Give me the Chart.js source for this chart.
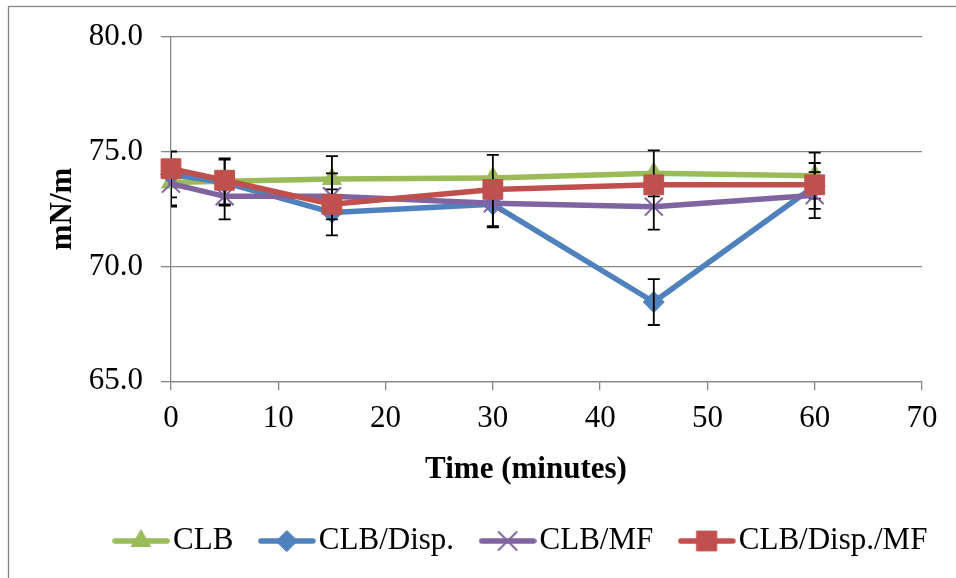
<!DOCTYPE html>
<html>
<head>
<meta charset="utf-8">
<title>Surface tension vs time</title>
<script src="https://cdn.jsdelivr.net/npm/chart.js@4.4.0/dist/chart.umd.min.js"></script>
<style>
  html, body { margin: 0; padding: 0; background: #fff; overflow: hidden; }
  #wrap { position: relative; width: 1052px; height: 578px; }
</style>
</head>
<body>
<div id="wrap"><canvas id="chart-tension" width="1052" height="578"></canvas></div>
<script>
// Surface tension (mN/m) over time for four formulations, with error bars

// Data
const times = [0, 5, 15, 30, 45, 60];
const clb = [73.65, 73.7, 73.8, 73.85, 74.05, 73.95];
const clbDisp = [74.0, 73.65, 72.35, 72.7, 68.45, 73.5];
const clbMf = [73.6, 73.05, 73.05, 72.75, 72.6, 73.1];
const clbDispMf = [74.25, 73.75, 72.7, 73.35, 73.55, 73.55];

// Error bar half-widths (the last series has none)
const clbErr = [1, 1, 1, 1, 1, 1];
const clbDispErr = [1, 1, 1, 1, 1, 1];
const clbMfErr = [1, 1, 1, 1, 1, 1];

const seriesNames = ['CLB', 'CLB/Disp.', 'CLB/MF', 'CLB/Disp./MF'];
const xTicks = [0, 10, 20, 30, 40, 50, 60, 70];
const yTicks = [65, 70, 75, 80];

// Excel 2007 palette
const colors = {
    green: '#9BBB59',
    blue: '#4F81BD',
    purple: '#8064A2',
    red: '#C0504D',
    grid: '#868686',
    text: '#000000'
};

const FONT = "'Liberation Serif', 'Times New Roman', serif";
const FONT_SIZE = 31;

Chart.defaults.font.family = FONT;
Chart.defaults.font.size = FONT_SIZE;
Chart.defaults.color = colors.text;

const markers = [
    { style: 'triangle', radius: 11, border: 1 },
    { style: 'rectRot', radius: 10.5, border: 1 },
    { style: 'crossRot', radius: 12.7, border: 2 },
    { style: 'rect', radius: 14, border: 1 }
];
const seriesColors = [colors.green, colors.blue, colors.purple, colors.red];
const seriesValues = [clb, clbDisp, clbMf, clbDispMf];
const seriesErrors = [clbErr, clbDispErr, clbMfErr, null];

function toPoints(values) {
    return times.map((t, i) => ({ x: t, y: values[i] }));
}

const datasets = seriesNames.map((name, i) => ({
    label: name,
    data: toPoints(seriesValues[i]),
    errors: seriesErrors[i],
    borderColor: seriesColors[i],
    backgroundColor: seriesColors[i],
    borderWidth: 5.5,
    borderJoinStyle: 'round',
    borderCapStyle: 'round',
    tension: 0,
    pointStyle: markers[i].style,
    pointRadius: markers[i].radius,
    pointBorderWidth: markers[i].border,
    pointBackgroundColor: seriesColors[i],
    pointBorderColor: seriesColors[i],
    clip: false,
    order: seriesNames.length - i // last series drawn on top, like Excel
}));

// Legend swatch: short line with the marker in the middle
function legendSwatch(i) {
    const c = document.createElement('canvas');
    c.width = 58;
    c.height = 30;
    const g = c.getContext('2d');
    g.strokeStyle = seriesColors[i];
    g.fillStyle = seriesColors[i];
    g.lineWidth = 5.5;
    g.lineCap = 'round';
    g.beginPath();
    g.moveTo(3, 15);
    g.lineTo(55, 15);
    g.stroke();
    g.lineWidth = markers[i].border;
    Chart.helpers.drawPoint(g, {
        pointStyle: markers[i].style,
        radius: markers[i].radius,
        borderWidth: markers[i].border,
        rotation: 0
    }, 29, 15);
    return c;
}

// Chart frame (only top/left edges fall inside the window)
const framePlugin = {
    id: 'frame',
    beforeDraw(chart) {
        const ctx = chart.ctx;
        ctx.save();
        ctx.fillStyle = '#fff';
        ctx.fillRect(0, 0, chart.width, chart.height);
        ctx.strokeStyle = colors.grid;
        ctx.lineWidth = 1.3;
        ctx.strokeRect(8.5, 6.5, chart.width - 17, chart.height + 20);
        ctx.restore();
    }
};

// Vertical error bars, clipped to the plot area
const errorBarPlugin = {
    id: 'errorBars',
    afterDatasetDraw(chart, args) {
        const ds = chart.data.datasets[args.index];
        if (!ds.errors) return;
        const ctx = chart.ctx;
        const area = chart.chartArea;
        const yScale = chart.scales.y;
        ctx.save();
        ctx.beginPath();
        ctx.rect(area.left, area.top, area.right - area.left, area.bottom - area.top);
        ctx.clip();
        ctx.strokeStyle = '#000';
        ctx.lineWidth = 1.8;
        args.meta.data.forEach((pt, i) => {
            const v = ds.data[i].y;
            const e = ds.errors[i];
            const top = yScale.getPixelForValue(v + e);
            const bot = yScale.getPixelForValue(v - e);
            const x = pt.x;
            ctx.beginPath();
            ctx.moveTo(x, top);
            ctx.lineTo(x, bot);
            ctx.moveTo(x - 6, top);
            ctx.lineTo(x + 6, top);
            ctx.moveTo(x - 6, bot);
            ctx.lineTo(x + 6, bot);
            ctx.stroke();
        });
        ctx.restore();
    }
};

const ctx = document.getElementById('chart-tension');
new Chart(ctx, {
    type: 'line',
    data: { datasets },
    options: {
        responsive: false,
        animation: false,
        layout: { padding: { left: 0, right: 0, top: 36, bottom: 11.5 } },
        plugins: {
            // x-axis caption, placed between the axis and the legend
            title: {
                display: true,
                position: 'bottom',
                weight: 500,
                text: 'Time (minutes)',
                color: colors.text,
                font: { size: FONT_SIZE, weight: 'bold' },
                padding: { top: 14, bottom: 0 }
            },
            legend: {
                position: 'bottom',
                labels: {
                    usePointStyle: true,
                    pointStyleWidth: 33,
                    padding: 37,
                    color: colors.text,
                    font: { size: FONT_SIZE },
                    generateLabels: (chart) => seriesNames.map((name, i) => ({
                        text: name,
                        pointStyle: legendSwatch(i),
                        fillStyle: seriesColors[i],
                        strokeStyle: seriesColors[i],
                        lineWidth: 0,
                        hidden: false,
                        datasetIndex: i
                    }))
                }
            },
            tooltip: { enabled: false }
        },
        scales: {
            x: {
                type: 'linear',
                min: 0,
                max: 70,
                afterBuildTicks: (axis) => { axis.ticks = xTicks.map(v => ({ value: v })); },
                afterFit: (axis) => { axis.height = 56; },
                ticks: { padding: 10, color: colors.text, maxRotation: 0 },
                grid: { drawOnChartArea: false, drawTicks: true, tickLength: 9, color: colors.grid, lineWidth: 1.3 },
                border: { display: true, color: colors.grid, width: 1.3 }
            },
            y: {
                type: 'linear',
                position: 'left',
                min: 65,
                max: 80,
                afterBuildTicks: (axis) => { axis.ticks = yTicks.map(v => ({ value: v })); },
                afterFit: (axis) => { axis.width = 171; },
                ticks: { padding: 18, color: colors.text, callback: (v) => Number(v).toFixed(1) },
                grid: { color: colors.grid, lineWidth: 1.3, drawTicks: true, tickLength: 10 },
                border: { display: true, color: colors.grid, width: 1.3 },
                title: {
                    display: true,
                    text: 'mN/m',
                    color: colors.text,
                    font: { size: FONT_SIZE, weight: 'bold' },
                    padding: { top: 44, bottom: 0 }
                }
            },
            // blank right-hand axis keeps the plot clear of the legend's extra width
            spacer: {
                type: 'linear',
                position: 'right',
                display: true,
                ticks: { display: false },
                grid: { display: false },
                border: { display: false },
                afterFit: (axis) => { axis.width = 130; }
            }
        }
    },
    plugins: [framePlugin, errorBarPlugin]
});
</script>
</body>
</html>
